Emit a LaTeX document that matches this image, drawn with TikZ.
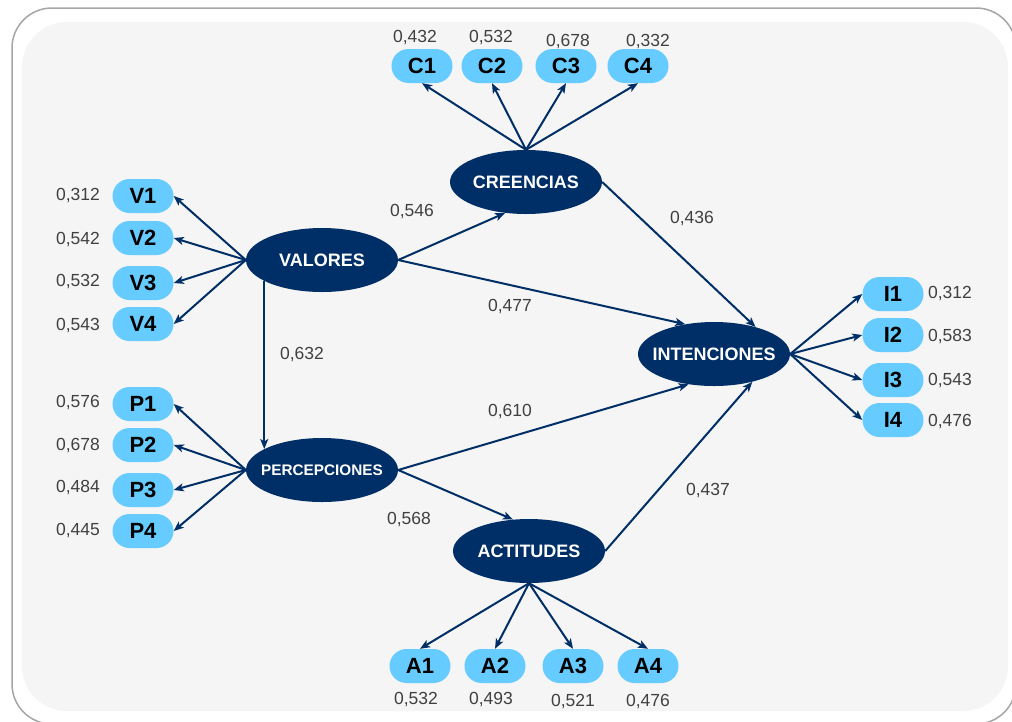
\documentclass[tikz,border=0pt]{standalone}
\usepackage{fontspec}
\setmainfont{Liberation Sans}
\usetikzlibrary{shapes.geometric,arrows.meta}
\definecolor{navy}{RGB}{0,46,102}
\definecolor{pill}{RGB}{102,204,255}
\definecolor{lbl}{RGB}{64,64,64}
\definecolor{panel}{RGB}{245,245,245}
\definecolor{frame}{RGB}{166,166,166}
\newcommand{\zw}[1]{\makebox[0pt][c]{#1}}
\tikzset{
  latent/.style={ellipse, fill=navy, text=white, minimum width=152pt, minimum height=64pt, inner sep=0pt, text depth=0pt,
    font=\fontsize{18}{18}\selectfont\bfseries},
  indic/.style={rectangle, rounded corners=17pt, fill=pill, text=black, minimum width=61pt, minimum height=34pt, inner sep=0pt, text depth=0pt,
    font=\fontsize{22}{22}\selectfont\bfseries},
  num/.style={text=lbl, inner sep=0pt, text depth=0pt, font=\fontsize{17.5}{17.5}\selectfont},
  arr/.style={draw=navy, line width=2pt, -{Stealth[length=10pt,width=8pt,inset=2.5pt]}},
}
\begin{document}
\begin{tikzpicture}[x=1pt,y=-1pt]
\useasboundingbox (0,0) rectangle (1012,721);
\fill[white] (0,0) rectangle (1012,721);
\draw[frame, line width=1.5pt, rounded corners=40pt] (12,8) rectangle (1016,724);
\fill[panel, rounded corners=45pt] (22,22) rectangle (1008,711);

% latent variables
\node[latent] (cre) at (526,182) {\zw{CREENCIAS}};
\node[latent] (val) at (322,260) {\zw{VALORES}};
\node[latent, font=\fontsize{15.3}{15.3}\selectfont\bfseries] (per) at (322,470) {\zw{PERCEPCIONES}};
\node[latent] (int) at (714,354) {\zw{INTENCIONES}};
\node[latent] (act) at (529,551) {\zw{ACTITUDES}};

% indicators
\node[indic] (c1) at (422,66) {C1};
\node[indic] (c2) at (492,66) {C2};
\node[indic] (c3) at (566,66) {C3};
\node[indic] (c4) at (638,66) {C4};

\node[indic] (v1) at (143,196) {V1};
\node[indic] (v2) at (143,238) {V2};
\node[indic] (v3) at (143,283) {V3};
\node[indic] (v4) at (143,324) {V4};

\node[indic] (p1) at (143,404) {P1};
\node[indic] (p2) at (143,445) {P2};
\node[indic] (p3) at (143,490) {P3};
\node[indic] (p4) at (143,531) {P4};

\node[indic] (i1) at (893,294) {I1};
\node[indic] (i2) at (893,335) {I2};
\node[indic] (i3) at (893,380) {I3};
\node[indic] (i4) at (893,420) {I4};

\node[indic] (a1) at (420,666) {A1};
\node[indic] (a2) at (495,666) {A2};
\node[indic] (a3) at (573,666) {A3};
\node[indic] (a4) at (648,666) {A4};

% loadings
\node[num] (lc1) at (415,36) {0,432};
\node[num] (lc2) at (491,36) {0,532};
\node[num] (lc3) at (568,40) {0,678};
\node[num] (lc4) at (648,40) {0,332};

\node[num] (lv1) at (78,194.5) {0,312};
\node[num] (lv2) at (78,238) {0,542};
\node[num] (lv3) at (78,280) {0,532};
\node[num] (lv4) at (78,324) {0,543};

\node[num] (lp1) at (78,401) {0,576};
\node[num] (lp2) at (78,444) {0,678};
\node[num] (lp3) at (78,486) {0,484};
\node[num] (lp4) at (78,529) {0,445};

\node[num] (li1) at (950,292) {0,312};
\node[num] (li2) at (950,335) {0,583};
\node[num] (li3) at (950,379) {0,543};
\node[num] (li4) at (950,420) {0,476};

\node[num] (la1) at (416,698) {0,532};
\node[num] (la2) at (491,698) {0,493};
\node[num] (la3) at (573,700) {0,521};
\node[num] (la4) at (648,700) {0,476};

% path coefficients
\node[num] (b1) at (412,210) {0,546};
\node[num] (b2) at (510,305) {0,477};
\node[num] (b3) at (302,353) {0,632};
\node[num] (b4) at (692,217) {0,436};
\node[num] (b5) at (510,410) {0,610};
\node[num] (b6) at (409,518) {0,568};
\node[num] (b7) at (708,489) {0,437};

% measurement arrows
\foreach \k in {1,2,3,4} {
  \draw[arr] (cre.north) -- (c\k.south);
  \draw[arr] (val.west) -- (v\k.east);
  \draw[arr] (per.west) -- (p\k.east);
  \draw[arr] (int.east) -- (i\k.west);
  \draw[arr] (act.south) -- (a\k.north);
}

% structural arrows
\draw[arr] (val.east) -- (cre.236);
\draw[arr] (val.east) -- (int.134);
\draw[arr] (val.200) -- (per.160);
\draw[arr] (cre.east) -- (int.33);
\draw[arr] (per.east) -- (int.230);
\draw[arr] (per.east) -- (act.117);
\draw[arr] (act.east) -- (int.324);
\end{tikzpicture}
\end{document}
